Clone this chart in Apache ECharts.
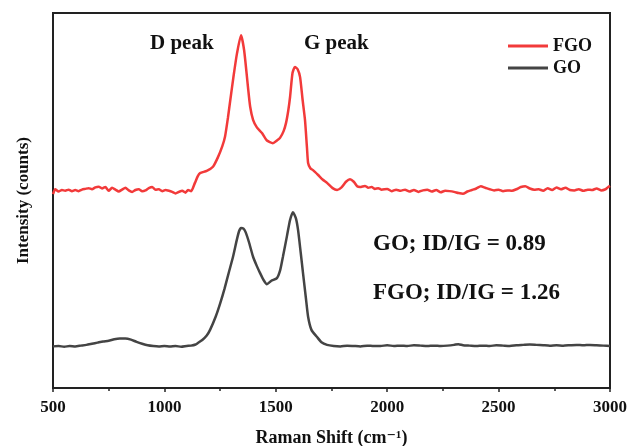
<!DOCTYPE html>
<html>
<head>
<meta charset="utf-8">
<script src="https://cdn.jsdelivr.net/npm/echarts@6/dist/echarts.min.js"></script>
<style>
  html, body { margin: 0; padding: 0; background: #fff; }
  #raman-view { width: 630px; height: 446px; }
</style>
</head>
<body>
<div id="raman-view"></div>
<script>
// Raman spectra, FGO offset above GO (arbitrary intensity units)
var fgoShift = [500, 510, 525, 540, 555, 570, 585, 600, 615, 630, 645, 660, 675, 690, 705, 720, 735, 750, 765, 780,
  795, 810, 825, 840, 855, 870, 885, 900, 915, 930, 945, 960, 975, 990, 1005, 1020, 1035, 1050, 1065, 1080,
  1095, 1106, 1120, 1137, 1150, 1160, 1190, 1218, 1240, 1260, 1272, 1285, 1294, 1310, 1326, 1344, 1358, 1375, 1385, 1398,
  1415, 1438, 1460, 1487, 1505, 1519, 1535, 1546, 1556, 1564, 1575, 1586, 1598, 1609, 1620, 1631, 1640, 1645, 1655, 1667,
  1690, 1710, 1730, 1755, 1775, 1795, 1815, 1833, 1850, 1865, 1878, 1900, 1915, 1930, 1945, 1960, 1975, 2000, 2020, 2040,
  2060, 2080, 2100, 2120, 2140, 2160, 2180, 2200, 2220, 2240, 2260, 2280, 2300, 2320, 2340, 2360, 2380, 2400, 2420, 2440,
  2460, 2480, 2500, 2520, 2540, 2560, 2580, 2600, 2620, 2640, 2660, 2680, 2700, 2720, 2740, 2760, 2780, 2800, 2820, 2840,
  2860, 2880, 2900, 2920, 2940, 2960, 2980, 2990, 3000];
var fgoIntensity = [51.7, 53.0, 52.4, 52.8, 52.6, 52.9, 52.5, 52.8, 52.5, 52.9, 53.1, 53.3, 53.0, 53.5, 53.7, 53.2, 53.6, 52.6, 53.4, 52.9,
  52.4, 52.9, 53.4, 52.7, 52.3, 52.8, 53.0, 52.5, 52.7, 53.3, 53.6, 52.9, 53.0, 52.5, 52.8, 52.6, 52.3, 51.9, 52.3, 52.6,
  52.1, 52.8, 52.5, 54.7, 56.5, 57.3, 57.9, 59.0, 61.5, 64.5, 67.0, 72.0, 76.0, 83.0, 89.3, 94.1, 90.0, 80.3, 75.0, 71.5,
  69.5, 68.0, 66.0, 65.3, 66.0, 66.7, 68.5, 70.7, 74.0, 77.6, 84.0, 85.6, 85.0, 82.9, 77.0, 71.5, 64.0, 60.0, 58.6, 58.1,
  56.8, 55.6, 54.7, 53.3, 52.8, 53.5, 55.0, 55.7, 55.0, 53.8, 53.6, 53.9, 53.4, 53.6, 53.1, 53.3, 52.9, 53.1, 52.5, 52.9,
  52.6, 52.9, 52.4, 52.8, 52.3, 52.7, 52.9, 52.4, 52.8, 52.2, 52.6, 52.5, 52.3, 52.0, 51.8, 52.4, 52.8, 53.2, 53.8, 53.4,
  53.0, 52.7, 52.9, 52.5, 52.7, 52.6, 53.0, 53.6, 53.8, 53.2, 52.9, 53.0, 52.6, 53.3, 52.8, 53.5, 53.0, 53.4, 52.8, 52.7,
  53.0, 52.6, 52.9, 52.8, 53.2, 52.7, 53.0, 53.5, 53.9];

var goShift = [500, 525, 550, 575, 600, 625, 650, 675, 700, 725, 750, 775, 800, 825, 850, 875, 900, 925, 950, 975,
  1000, 1025, 1050, 1075, 1100, 1120, 1140, 1150, 1170, 1190, 1205, 1230, 1250, 1270, 1290, 1308, 1325, 1335, 1344, 1355,
  1365, 1380, 1398, 1415, 1429, 1445, 1460, 1480, 1505, 1520, 1532, 1550, 1564, 1577, 1590, 1600, 1612, 1622, 1635, 1645,
  1660, 1685, 1705, 1730, 1760, 1790, 1820, 1850, 1880, 1910, 1940, 1970, 2000, 2030, 2060, 2090, 2120, 2150, 2180, 2210,
  2240, 2270, 2300, 2320, 2340, 2370, 2400, 2430, 2460, 2490, 2520, 2550, 2580, 2610, 2640, 2670, 2700, 2730, 2760, 2790,
  2820, 2850, 2880, 2910, 2940, 2970, 3000];
var goIntensity = [11.1, 11.2, 11.0, 11.2, 11.1, 11.3, 11.5, 11.8, 12.1, 12.4, 12.6, 13.0, 13.2, 13.2, 12.9, 12.3, 11.8, 11.4, 11.2, 11.1,
  11.2, 11.1, 11.2, 11.0, 11.2, 11.3, 11.6, 12.0, 12.8, 14.0, 15.5, 19.0, 22.5, 26.5, 31.0, 35.0, 39.5, 41.8, 42.7, 42.5,
  41.5, 38.8, 35.0, 32.5, 30.7, 28.8, 27.7, 28.6, 29.3, 31.5, 35.0, 40.5, 44.8, 46.9, 45.3, 42.1, 36.0, 30.7, 24.0, 19.0,
  15.5, 13.6, 12.2, 11.5, 11.2, 11.1, 11.3, 11.2, 11.1, 11.3, 11.2, 11.2, 11.4, 11.2, 11.3, 11.2, 11.4, 11.3, 11.2, 11.3,
  11.2, 11.3, 11.5, 11.7, 11.4, 11.3, 11.2, 11.3, 11.2, 11.4, 11.3, 11.2, 11.4, 11.5, 11.6, 11.5, 11.4, 11.3, 11.4, 11.3,
  11.4, 11.5, 11.4, 11.5, 11.4, 11.3, 11.2];

var seriesNames = ['FGO', 'GO'];
var xTicks = [500, 1000, 1500, 2000, 2500, 3000];

function pairs(xs, ys) {
  var out = [];
  for (var i = 0; i < xs.length; ++i) {
    out.push([xs[i], ys[i]]);
  }
  return out;
}

var serif = '"Liberation Serif", "DejaVu Serif", serif';
var myChart = echarts.init(document.getElementById('raman-view'), null, { renderer: 'canvas' });

var option = {
  backgroundColor: '#fff',
  animation: false,
  grid: {
    left: 53, right: 20, top: 13, bottom: 58,
    outerBoundsMode: 'none',
    containLabel: false,
    show: true, borderColor: '#222', borderWidth: 2
  },
  legend: {
    orient: 'vertical',
    left: 503, top: 32,
    icon: 'rect',
    itemWidth: 40, itemHeight: 3, itemGap: 4,
    data: seriesNames,
    textStyle: { fontFamily: serif, fontWeight: 'bold', fontSize: 18, color: '#111' }
  },
  xAxis: {
    type: 'value',
    min: xTicks[0], max: xTicks[xTicks.length - 1], interval: 500,
    axisLine: { lineStyle: { color: '#222', width: 2 } },
    axisTick: { inside: false, length: 4, lineStyle: { color: '#222', width: 1.5 } },
    minorTick: { show: true, splitNumber: 2, length: 3, lineStyle: { color: '#222', width: 1.5 } },
    splitLine: { show: false },
    axisLabel: {
      margin: 11, fontFamily: serif, fontWeight: 'bold', fontSize: 17, color: '#111',
      formatter: function(v) { return String(v); }
    },
    name: 'Raman Shift (cm\u207B\u00B9)',
    nameLocation: 'middle',
    nameGap: 41,
    nameTextStyle: { fontFamily: serif, fontWeight: 'bold', fontSize: 18, color: '#111' }
  },
  yAxis: {
    type: 'value',
    min: 0, max: 100,
    axisLine: { show: true, lineStyle: { color: '#222', width: 2 } },
    axisTick: { show: false },
    axisLabel: { show: false },
    splitLine: { show: false },
    name: 'Intensity (counts)',
    nameLocation: 'middle',
    nameGap: 21,
    nameTextStyle: { fontFamily: serif, fontWeight: 'bold', fontSize: 17, color: '#111' }
  },
  graphic: [
    { type: 'text', left: 150, top: 33, style: { text: 'D peak', font: 'bold 21px ' + serif, fill: '#111' } },
    { type: 'text', left: 304, top: 33, style: { text: 'G peak', font: 'bold 21px ' + serif, fill: '#111' } },
    { type: 'text', left: 373, top: 233, style: { text: 'GO; ID/IG = 0.89', font: 'bold 23px ' + serif, fill: '#111' } },
    { type: 'text', left: 373, top: 282, style: { text: 'FGO; ID/IG = 1.26', font: 'bold 23px ' + serif, fill: '#111' } }
  ],
  series: [
    {
      name: seriesNames[0],
      type: 'line',
      symbol: 'none',
      smooth: 0.2,
      data: pairs(fgoShift, fgoIntensity),
      lineStyle: { color: '#f23a3a', width: 2.5 },
      itemStyle: { color: '#f23a3a' }
    },
    {
      name: seriesNames[1],
      type: 'line',
      symbol: 'none',
      smooth: 0.2,
      data: pairs(goShift, goIntensity),
      lineStyle: { color: '#444', width: 2.5 },
      itemStyle: { color: '#444' }
    }
  ]
};
myChart.setOption(option);
</script>
</body>
</html>
